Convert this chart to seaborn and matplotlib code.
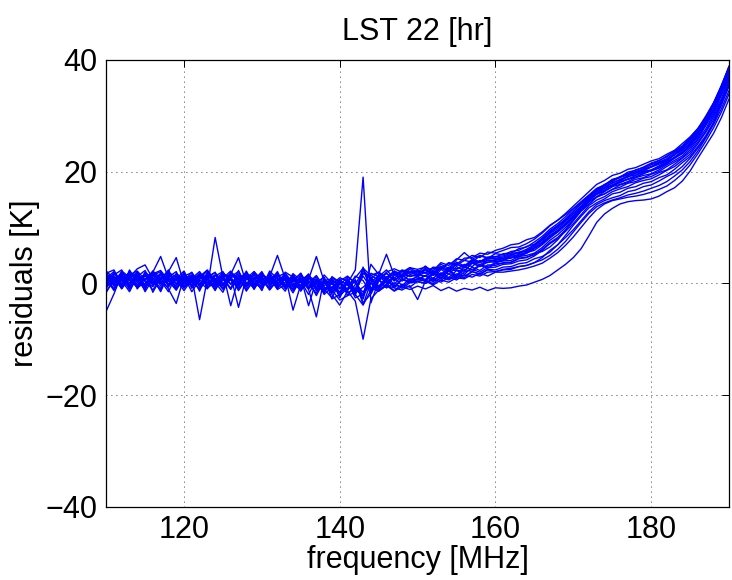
import matplotlib
matplotlib.use("Agg")
import matplotlib.pyplot as plt
import seaborn as sns
import pandas as pd

# ---------------- data ----------------
freq = list(range(110, 191))  # MHz, 1 MHz channels

# common (mean) residual curve, K
baseline = [
    0.3, 0.3, 0.4, 0.3, 0.4, 0.3, 0.4, 0.3, 0.3, 0.4, 0.3,
    0.3, 0.3, 0.4, 0.3, 0.3, 0.4, 0.3, 0.3, 0.3, 0.3,
    0.2, 0.2, 0.2, 0.1, 0.0, -0.1, -0.2, -0.3, -0.4, -0.4,
    -0.4, -0.4, -0.3, -0.2, 0.0, 0.2, 0.4, 0.6, 0.8, 1.0,
    1.2, 1.3, 1.6, 1.9, 2.2, 2.6, 3.0, 3.2, 3.5, 3.8,
    4.1, 4.4, 4.8, 5.2, 5.8, 6.5, 7.5, 8.7, 10.2, 11.8,
    13.3, 14.7, 15.8, 16.6, 17.3, 17.9, 18.5, 19.0, 19.5, 20.0,
    20.6, 21.3, 22.2, 23.2, 24.5, 26.2, 28.3, 30.8, 33.8, 37.3,
]

# per-observation departures from the common curve, K
line_00 = [0.9, -1.4, 1.6, 0.5, -1.1, -0.3, 1.3, 2.0, 0.2, -1.6, 0.8,
           -0.6, 1.5, -1.2, -0.2, -1.9, 1.1, 0.4, -1.0, 1.8, 0.3,
           1.0, -1.3, -0.4, -1.1, 1.5, -0.8, 0.9, -1.7, -0.2, -1.2,
           0.6, -2.2, -1.6, 0.4, -1.3, -0.6, -1.8, -1.2, -1.9, -1.5,
           -2.2, -1.7, -2.9, -2.6, -3.6, -3.5, -4.2, -3.9, -4.8, -4.6,
           -5.0, -5.2, -5.3, -5.5, -5.6, -5.8, -6.1, -6.3, -6.8, -7.2,
           -7.1, -6.2, -4.9, -4.2, -3.9, -3.7, -3.9, -4.2, -4.6, -4.9,
           -5.0, -4.9, -5.1, -4.9, -4.4, -3.8, -3.7, -4.0, -4.2, -4.3]
line_01 = [-2.0, 0.6, -0.9, 1.4, 0.3, -1.5, 1.8, 0.6, 1.1, -1.2, 0.1,
           1.7, -0.8, 0.5, -1.6, 1.2, 0.2, -1.1, 1.9, -0.6, 0.9,
           -1.3, 0.4, -0.7, 1.6, -0.9, 0.6, -2.0, 0.8, -1.4, 0.3,
           -0.9, 1.0, -3.2, -1.7, 0.8, -1.0, -0.3, -1.5, -0.7, -0.7,
           -1.2, -0.6, -1.4, -0.8, -1.6, -1.1, -1.9, -1.4, -2.2, -1.8,
           -2.1, -2.2, -2.4, -2.5, -2.7, -2.9, -3.0, -3.2, -3.4, -3.5,
           -3.3, -3.0, -2.6, -2.4, -2.5, -2.8, -3.1, -3.4, -3.6, -3.7,
           -3.8, -3.9, -3.8, -3.6, -3.3, -3.0, -2.9, -3.0, -3.2, -3.4]
line_02 = [-5.3, -2.2, 1.2, -0.7, 1.7, -1.1, 0.5, -1.8, 1.3, 0.2, -0.9,
           1.0, -1.7, 1.6, -0.5, 0.7, -1.3, 2.0, -0.9, 0.5, -1.6,
           1.7, -0.3, 0.9, -1.4, 0.4, -1.9, 1.0, -0.7, -2.2, 0.6,
           -1.3, -0.5, 2.2, 1.0, -0.8, 0.4, -1.1, 0.3, -0.6, -0.3,
           0.2, -0.8, -0.2, -1.1, -0.5, -1.3, -0.9, -1.6, -1.1, -1.7,
           -1.6, -1.7, -1.8, -2.0, -2.1, -2.3, -2.5, -2.6, -2.7, -2.6,
           -2.4, -2.2, -2.1, -2.2, -2.4, -2.6, -2.7, -2.9, -3.0, -3.0,
           -3.1, -3.1, -3.0, -2.9, -2.7, -2.5, -2.3, -2.4, -2.6, -2.8]
line_03 = [1.5, 2.1, -0.5, 1.2, 1.8, 0.3, 1.6, 4.5, 0.6, -1.0, 1.4,
           -0.7, 0.9, 2.0, 0.1, -1.3, 1.5, 0.4, 1.7, -0.9, 1.2,
           0.2, 1.9, -1.0, 0.8, -0.5, 1.4, 0.6, -1.3, 1.0, 0.1,
           1.5, 0.6, -2.5, 2.0, 1.2, 2.2, 0.5, 1.6, 1.0, 1.1,
           0.6, 1.4, 0.9, 1.7, 1.0, 1.5, 0.8, 1.7, 1.1, 0.9,
           1.2, 1.0, 1.4, 1.3, 1.6, 1.9, 2.2, 2.0, 1.7, 1.5,
           1.2, 1.0, 0.9, 1.1, 1.0, 1.2, 1.1, 1.3, 1.2, 1.4,
           1.3, 1.5, 1.4, 1.2, 1.3, 1.4, 1.2, 1.3, 1.4, 1.5]
line_04 = [-1.1, 1.4, 0.1, -1.8, 0.8, 2.0, -0.6, 0.5, 1.8, 4.2, -0.4,
           1.2, -0.9, 0.6, 1.7, -1.4, 0.4, -0.3, 1.4, 0.8, -1.1,
           2.0, 0.6, -0.9, 1.2, 0.1, 1.6, -1.0, 0.4, -0.7, 0.9,
           0.2, -1.5, 3.2, -0.9, 1.6, 0.6, 1.8, 0.4, 1.3, 0.4,
           1.4, 0.2, 1.1, 0.3, 1.3, 0.2, 0.9, 0.5, 1.1, 0.6,
           0.4, 0.6, 0.8, 0.5, 0.9, 1.3, 1.6, 1.4, 1.0, 0.7,
           0.5, 0.4, 0.6, 0.5, 0.7, 0.6, 0.8, 0.7, 0.9, 0.8,
           0.9, 0.7, 0.8, 1.0, 0.9, 0.8, 1.0, 1.1, 0.9, 1.0]
line_05 = [0.5, -1.6, 1.0, 0.2, -0.9, 1.7, -2.0, 0.6, -1.3, -4.0, 0.9,
           -1.8, 0.3, -0.7, 1.2, 0.5, -1.5, 1.0, -0.5, 1.6, 0.0,
           -0.9, 1.2, 0.3, -1.8, 0.8, -0.5, 1.4, -1.1, 0.6, -1.7,
           1.0, -0.7, -1.9, 1.3, -0.5, 0.8, -1.2, 0.1, -0.7, -0.1,
           -0.9, 0.4, -0.8, 0.3, -1.0, -0.1, -0.9, 0.0, -0.8, -0.3,
           -0.5, -0.7, -0.4, -0.6, -0.5, -0.8, -1.0, -0.9, -0.7, -0.6,
           -0.4, -0.5, -0.3, -0.6, -0.5, -0.7, -0.6, -0.8, -0.7, -0.9,
           -0.8, -1.0, -0.9, -0.8, -1.0, -0.9, -1.1, -1.0, -1.2, -1.1]
line_06 = [1.9, 0.6, -1.3, 2.1, -0.3, 1.0, 0.0, -1.5, 1.6, 0.8, -0.7,
           0.4, 1.4, -1.2, 7.9, 0.8, -0.5, 1.2, -1.7, 0.3, 1.8,
           -0.7, 1.0, 1.6, 0.0, -1.3, 0.6, -0.9, 1.8, 0.4, -1.8,
           -0.5, 1.7, 0.8, -1.6, 0.6, -1.0, 1.4, -0.2, 0.8, 0.2,
           -0.5, 0.6, -0.3, 0.5, 0.1, -0.4, 0.6, -0.2, 0.3, 0.0,
           0.0, 0.2, -0.1, 0.3, 0.1, 0.4, 0.6, 0.5, 0.3, 0.1,
           0.0, 0.2, 0.1, -0.1, 0.0, 0.2, 0.1, 0.0, 0.2, 0.1,
           0.0, 0.1, 0.2, 0.0, 0.1, 0.3, 0.2, 0.1, 0.0, 0.2]
line_07 = [-0.7, 1.2, 2.0, -1.0, 0.6, -0.5, 1.6, 0.2, -1.8, 1.0, 0.0,
           0.8, -6.8, 0.4, -0.9, 1.4, 0.2, -1.3, 0.6, 1.8, -0.5,
           1.2, -1.0, 0.6, 0.2, 1.8, -0.9, 0.4, 1.4, -1.3, 0.8,
           1.7, 0.4, -1.3, 1.0, 2.0, 0.6, 1.6, 0.8, 1.7, 0.6,
           1.5, 0.4, 1.4, 0.6, 1.6, 0.5, 1.3, 0.7, 1.2, 1.0,
           0.8, 1.0, 0.7, 0.9, 1.1, 1.4, 1.7, 1.5, 1.2, 1.0,
           0.9, 0.7, 0.8, 1.0, 0.9, 1.1, 0.9, 1.0, 0.8, 0.9,
           1.0, 0.8, 0.9, 1.1, 0.9, 1.0, 1.2, 1.0, 1.1, 0.9]
line_08 = [1.0, -0.5, 1.8, 0.8, 2.2, 3.0, 0.4, -1.2, 0.8, 1.7, -1.0,
           0.2, 1.0, -0.7, 0.4, 1.6, -4.4, 0.6, 1.2, -1.0, 0.4,
           -1.4, 0.4, 1.2, -0.6, 1.0, 0.0, -1.6, 0.8, 1.2, -0.4,
           0.6, -1.0, 1.6, -0.6, -1.4, -0.4, -1.7, -0.8, -1.5, -0.6,
           -0.6, -1.4, -0.5, -1.3, -0.8, -1.6, -0.9, -1.5, -1.0, -1.4,
           -1.2, -1.4, -1.3, -1.5, -1.4, -1.7, -1.9, -1.8, -1.6, -1.4,
           -1.3, -1.2, -1.4, -1.5, -1.3, -1.6, -1.5, -1.7, -1.6, -1.8,
           -1.7, -1.9, -1.8, -1.6, -1.8, -1.7, -1.9, -2.0, -1.8, -1.9]
line_09 = [-1.7, 0.0, 0.8, -0.5, 1.4, -1.2, 1.0, 1.8, -0.6, 0.4, 1.9,
           -1.0, 0.6, 1.8, -0.2, 0.8, 1.2, 4.3, -0.4, 0.6, 1.4,
           0.4, -0.6, 1.8, 1.0, -0.8, 1.2, 0.0, -1.4, 1.6, 0.6,
           -0.8, 1.0, -3.5, 0.4, 1.4, -0.2, 1.0, 1.6, 0.4, 0.6,
           0.1, 0.9, -0.1, 1.0, 0.3, 0.8, 0.0, 0.9, 0.2, 0.5,
           0.3, 0.5, 0.2, 0.4, 0.6, 0.9, 1.1, 0.8, 0.5, 0.3,
           0.2, 0.4, 0.3, 0.5, 0.3, 0.4, 0.6, 0.4, 0.5, 0.3,
           0.4, 0.5, 0.3, 0.6, 0.4, 0.5, 0.6, 0.4, 0.5, 0.7]
line_10 = [1.2, -0.8, 0.4, 1.6, -1.4, 0.6, -0.2, 1.2, -0.8, 0.2, 1.4,
           0.0, -1.2, 0.8, 1.6, -0.4, 1.0, -4.6, 0.8, -0.6, 1.2,
           0.0, 1.4, -0.4, 0.6, -1.0, 0.2, 1.6, -0.4, -1.0, 1.2,
           -1.8, 0.2, 2.6, 1.2, -0.8, 1.0, -0.6, 0.8, -0.2, 0.2,
           -0.8, 0.6, -0.7, 0.5, -0.8, 0.4, -0.6, 0.1, -0.5, -0.1,
           -0.1, -0.3, 0.0, -0.2, -0.4, -0.1, 0.2, 0.0, -0.2, -0.3,
           -0.2, -0.1, -0.3, -0.2, 0.0, -0.2, -0.3, -0.1, -0.2, -0.4,
           -0.3, -0.1, -0.2, -0.4, -0.2, -0.3, -0.1, -0.3, -0.2, -0.4]
line_11 = [0.6, 1.8, -1.0, 0.8, 0.0, 1.4, -0.8, 0.4, 2.1, -0.6, 1.0,
           1.6, -0.4, 1.0, 0.2, -1.2, 0.8, 1.8, -0.8, 1.4, 0.4,
           1.0, 4.8, 0.6, -0.8, 1.4, 0.4, -0.6, 1.0, 0.2, 1.4,
           0.8, -1.2, 2.0, 1.6, 0.6, 1.8, 2.2, 1.4, 2.0, 1.5,
           1.7, 1.0, 2.1, 1.3, 2.2, 1.5, 2.0, 1.4, 2.1, 1.6,
           1.8, 2.0, 1.7, 1.9, 2.1, 2.5, 2.8, 2.6, 2.3, 2.0,
           1.8, 1.7, 1.9, 1.8, 2.0, 1.8, 1.9, 1.7, 1.8, 1.9,
           1.7, 1.8, 1.6, 1.8, 1.7, 1.5, 1.6, 1.5, 1.4, 1.6]
line_12 = [-0.8, 0.4, 1.4, -1.2, 1.0, 0.2, -1.6, 0.8, 0.0, 1.2, -0.4,
           0.6, 1.8, -0.2, -1.0, 1.2, 0.4, -0.6, 1.6, 0.0, -0.8,
           0.6, -0.4, 1.2, -4.9, -0.2, 0.8, 5.0, 0.6, -0.8, -2.6,
           -1.8, -1.2, -0.4, 0.8, -1.0, 0.2, -0.8, -1.2, -0.4, -0.7,
           -1.2, -0.3, -1.1, -0.2, -1.3, -0.6, -0.5, -1.2, -0.7, -0.9,
           -0.7, -0.9, -0.8, -1.0, -0.9, -0.6, -0.4, -0.7, -0.9, -1.1,
           -1.0, -0.8, -0.9, -1.1, -0.9, -1.0, -1.2, -1.0, -1.1, -1.3,
           -1.2, -1.1, -1.3, -1.2, -1.4, -1.2, -1.3, -1.5, -1.4, -1.6]
line_13 = [1.8, -0.6, 0.2, 1.2, -1.0, 1.6, 0.6, -0.4, 1.0, -1.4, 0.4,
           -0.8, 1.2, 0.4, -1.4, 0.6, 1.8, -0.2, 1.0, -1.2, 0.6,
           -0.4, 0.8, -1.2, 1.6, 0.6, -1.0, -5.8, 1.2, -2.4, -1.6,
           1.2, -1.6, -3.6, -1.0, 1.2, 0.4, 1.6, 0.6, 1.2, 0.5,
           1.2, 0.1, 1.3, 0.2, 1.2, 0.3, 1.1, 0.5, 0.9, 0.7,
           0.6, 0.8, 0.5, 0.7, 0.9, 1.2, 1.4, 1.1, 0.8, 0.6,
           0.5, 0.7, 0.6, 0.8, 0.6, 0.7, 0.5, 0.7, 0.6, 0.8,
           0.7, 0.6, 0.8, 0.7, 0.6, 0.8, 0.7, 0.9, 0.8, 0.7]
line_14 = [-0.4, 1.0, -1.4, 0.6, 1.6, -0.8, 1.2, 0.0, -1.0, 1.4, 0.2,
           1.2, -0.6, 1.4, 0.4, -0.8, 1.6, 0.6, -1.4, 0.8, 0.2,
           -1.0, 0.2, 1.4, -0.4, 1.0, -3.9, 0.8, -1.2, 0.4, -0.6,
           0.4, 2.8, 19.3, -3.3, 0.4, 1.6, 0.0, 1.0, -0.4, 0.3,
           0.8, -0.5, 0.9, -0.3, 0.8, -0.4, 0.7, -0.2, 0.6, 0.1,
           0.1, 0.3, 0.0, 0.2, 0.4, 0.6, 0.8, 0.5, 0.2, 0.0,
           0.1, 0.0, 0.2, 0.1, 0.3, 0.1, 0.2, 0.0, 0.1, 0.2,
           0.1, 0.3, 0.2, 0.1, 0.2, 0.0, 0.2, 0.3, 0.1, 0.0]
line_15 = [0.2, -1.2, 0.8, -0.2, 1.2, -1.8, 0.4, 1.4, -0.4, 0.6, -1.2,
           0.8, 0.0, -1.4, 1.0, 1.8, -0.6, 0.4, 1.2, -0.2, -1.2,
           1.4, -0.8, 0.0, 1.0, -1.4, 1.2, -0.4, 0.6, -1.6, -3.5,
           -1.0, -2.8, -9.7, -2.6, -1.2, -0.4, 0.6, -1.0, 0.0, -0.4,
           0.2, -1.1, 0.3, -0.9, 0.1, -1.0, -0.1, -0.9, -0.2, -0.6,
           -0.4, -0.6, -0.3, -0.5, -0.7, -0.4, -0.2, -0.5, -0.6, -0.4,
           -0.3, -0.5, -0.4, -0.6, -0.5, -0.3, -0.5, -0.4, -0.6, -0.5,
           -0.6, -0.4, -0.5, -0.7, -0.6, -0.5, -0.7, -0.6, -0.8, -0.7]
line_16 = [-1.2, 0.8, 0.0, 1.0, -0.6, 0.4, 1.8, -0.8, 1.2, 0.2, -1.6,
           0.4, 1.0, -0.8, 0.6, -0.4, 1.2, 0.0, 0.8, -1.4, 1.0,
           0.6, -1.2, 1.0, 0.4, 1.8, -0.6, 0.8, -0.2, 1.4, 0.4,
           -0.6, 1.0, -2.0, 3.6, 1.6, 5.0, 1.0, 1.8, 1.2, 1.3,
           0.7, 1.6, 1.1, 1.8, 1.2, 1.9, 1.6, 2.2, 1.7, 2.1,
           2.2, 2.5, 2.3, 2.6, 2.4, 2.7, 2.9, 2.6, 2.1, 1.6,
           1.3, 1.1, 1.2, 1.0, 1.3, 1.1, 1.4, 1.2, 1.3, 1.5,
           1.4, 1.3, 1.5, 1.4, 1.6, 1.5, 1.3, 1.4, 1.6, 1.4]
line_17 = [1.4, 0.2, -1.0, 1.8, 0.4, -0.8, 1.0, -0.2, 1.6, -0.6, 0.8,
           -0.2, 1.4, 0.6, -1.0, 0.2, 0.8, -1.6, 0.4, 1.2, -0.6,
           0.2, 1.6, -0.8, 0.4, -0.4, 1.0, 0.2, -0.8, 0.8, -1.2,
           1.2, -0.8, -1.8, 0.2, -1.4, -0.6, -1.2, -1.8, -1.2, -3.9,
           -0.8, -1.6, -1.0, -1.7, -1.2, -1.8, -1.4, -1.9, -1.5, -1.7,
           -1.7, -1.9, -1.8, -2.0, -2.1, -1.9, -1.6, -1.8, -2.0, -2.2,
           -2.1, -1.9, -1.7, -1.8, -2.0, -2.2, -2.1, -2.3, -2.2, -2.4,
           -2.3, -2.2, -2.4, -2.3, -2.1, -2.0, -2.2, -2.1, -1.9, -2.0]
line_18 = [0.0, 1.6, -0.6, 0.6, -1.2, 1.2, -0.4, 0.8, 0.2, -1.6, 1.8,
           -1.2, 0.4, 1.2, -0.6, 1.6, 0.2, -0.8, 1.4, 0.4, -0.2,
           0.8, 0.0, -1.6, 1.2, 0.2, 1.8, -1.2, 0.4, -0.4, 1.0,
           0.0, 1.4, 3.0, 1.6, 2.0, 0.8, 1.8, 1.0, 2.0, 0.9,
           1.9, 0.6, 1.8, 0.8, 2.0, 2.9, 1.3, 1.8, 1.0, 1.5,
           1.0, 1.3, 1.1, 1.4, 1.2, 1.6, 1.9, 1.7, 1.3, 1.1,
           1.0, 0.8, 1.1, 0.9, 1.2, 1.0, 1.1, 0.9, 1.0, 1.2,
           1.1, 1.0, 1.2, 1.0, 1.1, 1.3, 1.1, 1.2, 1.0, 1.1]
line_19 = [1.0, -0.2, 0.6, -1.4, 1.2, 0.0, -1.0, 1.6, 0.4, -0.4, 0.8,
           0.2, -1.4, 0.4, 1.2, -0.6, 0.6, 1.4, -0.2, -1.0, 1.6,
           -0.2, 0.8, 0.4, -1.2, 0.6, 1.6, -0.6, 0.2, 1.0, -2.2,
           0.6, -1.8, 3.0, -1.2, 0.8, 1.6, 0.2, 1.0, 0.5, 0.5,
           0.1, 0.9, 0.0, 0.8, 0.4, 0.2, 0.9, 0.1, 0.7, 0.3,
           0.3, 0.1, 0.4, 0.2, 0.5, 0.8, 1.0, 0.7, 0.4, 0.2,
           0.3, 0.1, 0.2, 0.4, 0.2, 0.3, 0.1, 0.3, 0.4, 0.2,
           0.3, 0.2, 0.4, 0.3, 0.2, 0.4, 0.3, 0.2, 0.4, 0.3]

departures = [line_00, line_01, line_02, line_03, line_04, line_05, line_06,
              line_07, line_08, line_09, line_10, line_11, line_12, line_13,
              line_14, line_15, line_16, line_17, line_18, line_19]

title_text = "LST 22 [hr]"
xlabel_text = "frequency [MHz]"
ylabel_text = "residuals [K]"
xticks = [120, 140, 160, 180]
yticks = [-40, -20, 0, 20, 40]

# ---------------- long-form table ----------------
rows = []
for k, dep in enumerate(departures):
    for f, b, d in zip(freq, baseline, dep):
        rows.append({"freq": f, "res": b + d, "line": k})
df = pd.DataFrame(rows)

# ---------------- plot ----------------
sns.set_theme(style="white")
plt.rcParams["font.family"] = ["Liberation Sans", "DejaVu Sans"]
plt.rcParams["text.color"] = "black"
plt.rcParams["axes.labelcolor"] = "black"

fig = plt.figure(figsize=(7.32, 5.80), dpi=100)
ax = fig.add_axes([0.145, 0.126, 0.851, 0.771])

sns.lineplot(data=df, x="freq", y="res", units="line", estimator=None,
             color=(0, 0, 1), linewidth=1.0, ax=ax, legend=False)

ax.set_xlim(110, 190)
ax.set_ylim(-40, 40)
ax.set_xticks(xticks)
ax.set_yticks(yticks)
ax.grid(True, color="black", linestyle=(0, (1, 5)), linewidth=0.6)
for s in ax.spines.values():
    s.set_visible(True)
    s.set_color("black")
    s.set_linewidth(0.9)
ax.tick_params(direction="in", length=5, width=0.7, top=True, right=True,
               labelsize=22, pad=6, colors="black")
ax.set_title(title_text, fontsize=22, pad=14, color="black")
ax.set_xlabel(xlabel_text, fontsize=22, labelpad=0, color="black")
ax.set_ylabel(ylabel_text, fontsize=22, labelpad=4, color="black")

fig.savefig("out.png", dpi=100, facecolor="white")
